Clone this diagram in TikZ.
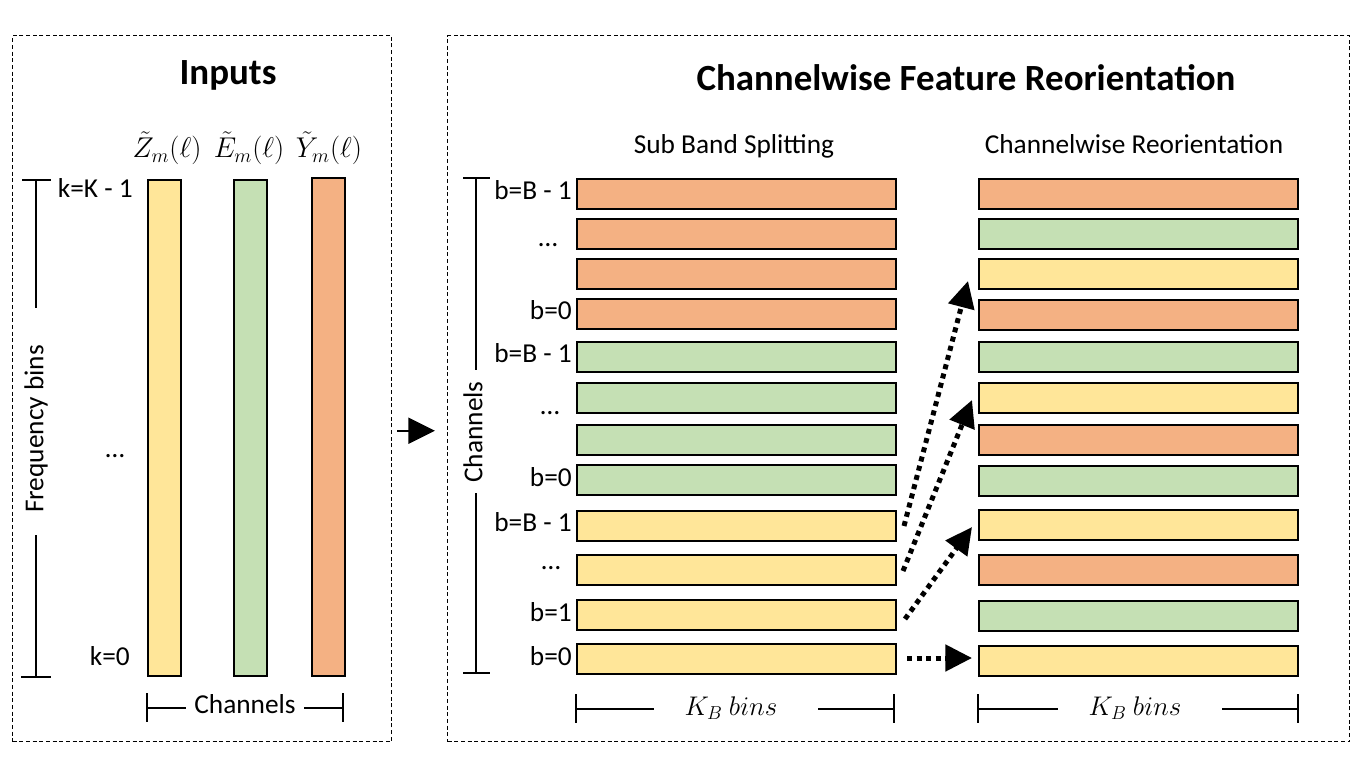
\documentclass[tikz,border=0pt]{standalone}
\usepackage[no-math]{fontspec}
\setmainfont{Carlito}
\usetikzlibrary{arrows.meta,calc}
\definecolor{cyel}{HTML}{FFE699}
\definecolor{cgrn}{HTML}{C5E0B4}
\definecolor{corg}{HTML}{F4B183}
\begin{document}
\begin{tikzpicture}[x=0.75pt,y=-0.75pt,
  hbar/.style={draw=black,line width=1.5pt,rectangle,inner sep=0pt,minimum width=239.25pt,minimum height=22.5pt,anchor=north west},
  vbar/.style={draw=black,line width=1.5pt,rectangle,inner sep=0pt,minimum width=24.75pt,anchor=north west},
  dbox/.style={draw=black,line width=1.1pt,dash pattern=on 3pt off 2pt,rectangle,inner sep=0pt,minimum height=529.5pt,anchor=north west},
  lab/.style={font=\fontsize{20.5}{24}\selectfont,inner sep=0pt},
  ttl/.style={font=\fontsize{27.7}{32}\selectfont\bfseries,inner sep=0pt,anchor=base},
  mlab/.style={font=\fontsize{17.28}{20}\selectfont,inner sep=0pt,anchor=base,scale=1.24},
  klab/.style={font=\fontsize{17.28}{20}\selectfont,inner sep=0pt,anchor=center,scale=1.17},
  ax/.style={line width=1.5pt},
  dotarr/.style={line width=3.75pt,dash pattern=on 3.75pt off 3.4pt,-{Triangle[length=20pt,width=19.5pt]}},
  bigarr/.style={line width=1.5pt,-{Triangle[length=20pt,width=19.5pt]}},
]
\useasboundingbox (0,0) rectangle (1359,766);

% dashed boxes
\node[dbox,minimum width=284.25pt] (lbox) at (12,35) {};
\node[dbox,minimum width=676.5pt] (rbox) at (447,35) {};

% titles
\node[ttl] (tin) at (228,85) {Inputs};
\node[ttl] (tcf) at (966,91) {Channelwise Feature Reorientation};
\node[lab,anchor=base] (tsb) at (734,154) {Sub Band Splitting};
\node[lab,anchor=base] (tcr) at (1134,154) {Channelwise Reorientation};

% input labels
\node[mlab] (mz) at (167,158) {$\tilde{Z}_m(\ell)$};
\node[mlab] (me) at (249,158) {$\tilde{E}_m(\ell)$};
\node[mlab] (my) at (329,158) {$\tilde{Y}_m(\ell)$};

% input bars
\node[vbar,fill=cyel,minimum height=372pt] (I1) at (147,179) {};
\node[vbar,fill=cgrn,minimum height=372pt] (I2) at (233,179) {};
\node[vbar,fill=corg,minimum height=373.5pt] (I3) at (311,177) {};

% frequency axis
\node[lab,rotate=90] (fb) at (36,429) {Frequency bins};
\draw[ax] (22,180) -- (51,180);
\draw[ax] (36,180) -- (36,308);
\draw[ax] (36,535) -- (36,677);
\draw[ax] (21,677) -- (51,677);
\node[lab,anchor=base east] (kk) at (133,198) {k=K - 1};
\node[lab,anchor=base] (kd) at (115,457) {…};
\node[lab,anchor=base east] (k0) at (130,665) {k=0};

% channels bracket (inputs)
\node[lab,anchor=base] (chb) at (245,713) {Channels};
\draw[ax] (147,693) -- (147,722);
\draw[ax] (343,693) -- (343,722);
\draw[ax] (147,708) -- (186,708);
\draw[ax] (304,708) -- (343,708);

% arrow between boxes
\draw[bigarr] ($(lbox.east)+(5,42)$) -- ($(rbox.west)+(-12,42)$);

% sub band bars (left column)
\node[hbar,fill=corg] (L1) at (576,178) {};
\node[hbar,fill=corg] (L2) at (576,218) {};
\node[hbar,fill=corg] (L3) at (576,258) {};
\node[hbar,fill=corg] (L4) at (576,298) {};
\node[hbar,fill=cgrn] (L5) at (576,341) {};
\node[hbar,fill=cgrn] (L6) at (576,382) {};
\node[hbar,fill=cgrn] (L7) at (576,424) {};
\node[hbar,fill=cgrn] (L8) at (576,464) {};
\node[hbar,fill=cyel] (L9) at (576,510) {};
\node[hbar,fill=cyel] (L10) at (576,554) {};
\node[hbar,fill=cyel] (L11) at (576,599) {};
\node[hbar,fill=cyel] (L12) at (576,643) {};

% reoriented bars (right column)
\node[hbar,fill=corg] (R1) at (978,178) {};
\node[hbar,fill=cgrn] (R2) at (978,218) {};
\node[hbar,fill=cyel] (R3) at (978,258) {};
\node[hbar,fill=corg] (R4) at (978,299) {};
\node[hbar,fill=cgrn] (R5) at (978,341) {};
\node[hbar,fill=cyel] (R6) at (978,382) {};
\node[hbar,fill=corg] (R7) at (978,424) {};
\node[hbar,fill=cgrn] (R8) at (978,465) {};
\node[hbar,fill=cyel] (R9) at (978,509) {};
\node[hbar,fill=corg] (R10) at (978,554) {};
\node[hbar,fill=cgrn] (R11) at (978,600) {};
\node[hbar,fill=cyel] (R12) at (978,645) {};

% band labels
\node[lab,anchor=base east] (b1) at (572,200) {b=B - 1};
\node[lab,anchor=base] (d1) at (548,247) {…};
\node[lab,anchor=base east] (b2) at (572,320) {b=0};
\node[lab,anchor=base east] (b3) at (572,363) {b=B - 1};
\node[lab,anchor=base] (d2) at (550,414) {…};
\node[lab,anchor=base east] (b4) at (572,486) {b=0};
\node[lab,anchor=base east] (b5) at (572,531) {b=B - 1};
\node[lab,anchor=base] (d3) at (551,569) {…};
\node[lab,anchor=base east] (b6) at (572,621) {b=1};
\node[lab,anchor=base east] (b7) at (572,665) {b=0};

% channels axis (right box)
\node[lab,rotate=90] (chr) at (473,432) {Channels};
\draw[ax] (463,178) -- (490,178);
\draw[ax] (476,178) -- (476,370);
\draw[ax] (476,493) -- (476,673);
\draw[ax] (463,673) -- (490,673);

% K_B bins brackets
\node[klab] (kb1) at (731,708) {$K_B\ bins$};
\draw[ax] (576,694) -- (576,723);
\draw[ax] (894,694) -- (894,723);
\draw[ax] (576,709) -- (654,709);
\draw[ax] (818,709) -- (894,709);
\node[klab] (kb2) at (1135,708) {$K_B\ bins$};
\draw[ax] (978,694) -- (978,723);
\draw[ax] (1298,694) -- (1298,723);
\draw[ax] (978,709) -- (1058,709);
\draw[ax] (1222,709) -- (1298,709);

% reorientation arrows
\draw[dotarr] ($(L9.east)+(7,0)$) -- ($(R3.west)+(-10,7)$);
\draw[dotarr] ($(L10.east)+(6,1)$) -- ($(R6.west)+(-6,2)$);
\draw[dotarr] ($(L11.east)+(8,4)$) -- ($(R9.west)+(-6,2)$);
\draw[dotarr] ($(L12.east)+(10,-1)$) -- ($(R12.west)+(-6,-3)$);
\end{tikzpicture}
\end{document}
